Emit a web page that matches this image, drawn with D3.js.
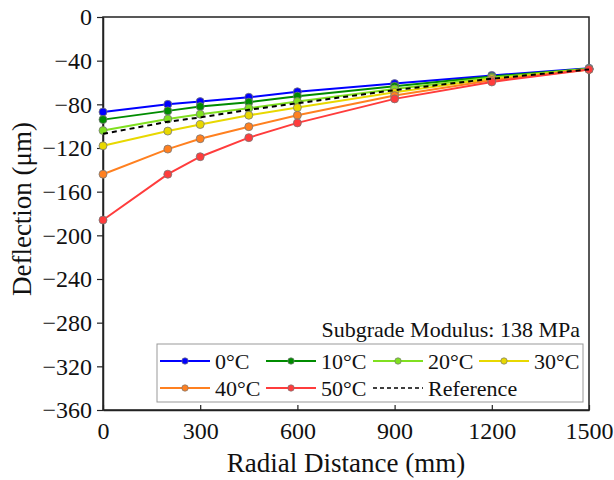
<!DOCTYPE html>
<html>
<head>
<meta charset="utf-8">
<script src="https://cdn.jsdelivr.net/npm/d3@7"></script>
<style>
	body { margin: 0; background: #fff; }
	text { font-family: "Liberation Serif", "Times New Roman", serif; }
</style>
</head>
<body>
<div id="chart"></div>
<script>
// radial distance (mm) and deflection (µm)
var distance = [0, 200, 300, 450, 600, 900, 1200, 1500];
var temp0  = [-87, -80, -77.5, -73.5, -68.5, -61, -53.5, -47];
var temp10 = [-94, -86, -82, -78, -72.5, -63.5, -54.5, -47.5];
var temp20 = [-104, -93.5, -89, -83.5, -77.5, -66, -55.5, -47.5];
var temp30 = [-118, -104.5, -98.5, -90, -83, -69, -56.5, -48];
var temp40 = [-144, -121, -111.5, -100.5, -90, -72, -58, -48];
var temp50 = [-186, -144, -128, -110.5, -97, -75, -59.5, -48];
var reference = [-107, -96, -92, -85, -79, -67, -56.5, -48];

var seriesNames = ["0°C", "10°C", "20°C", "30°C", "40°C", "50°C"];
var seriesColors = ["#0000ff", "#008c00", "#80e020", "#e8d800", "#ff8020", "#ff3c3c"];
var xTicks = [0, 300, 600, 900, 1200, 1500];
var yTicks = [0, -40, -80, -120, -160, -200, -240, -280, -320, -360];

function init() {
	var w = 614;
	var h = 480;
	var left = 103, right = 589, top = 17, bottom = 410;

	var series = [temp0, temp10, temp20, temp30, temp40, temp50];

	var xScale = d3.scaleLinear().domain([0, 1500]).range([left, right]);
	var yScale = d3.scaleLinear().domain([-360, 0]).range([bottom, top]);

	var svg = d3.select("#chart")
		.append("svg")
		.attr("width", w)
		.attr("height", h);

	// frame
	svg.append("rect")
		.attr("x", left)
		.attr("y", top)
		.attr("width", right - left)
		.attr("height", bottom - top)
		.attr("fill", "none")
		.attr("stroke", "#222")
		.attr("stroke-width", 1.5);

	var xAxis = d3.axisBottom(xScale)
		.tickValues(xTicks)
		.tickSizeInner(-5)
		.tickSizeOuter(0)
		.tickPadding(12)
		.tickFormat(function(v) { return String(v); });

	var yAxis = d3.axisLeft(yScale)
		.tickValues(yTicks)
		.tickSizeInner(6)
		.tickSizeOuter(0)
		.tickPadding(5)
		.tickFormat(function(v) { return v < 0 ? "\u2212" + Math.abs(v) : String(v); });

	var gx = svg.append("g")
		.attr("transform", "translate(0," + bottom + ")")
		.call(xAxis);
	var gy = svg.append("g")
		.attr("transform", "translate(" + left + ",0)")
		.call(yAxis);

	[gx, gy].forEach(function(g) {
		g.attr("font-family", "Liberation Serif").attr("font-size", 24);
		g.select(".domain").attr("stroke", "#222").attr("stroke-width", 1.5);
		g.selectAll(".tick line").attr("stroke", "#222").attr("stroke-width", 1.2);
		g.selectAll(".tick text").attr("fill", "#111");
	});

	svg.append("text")
		.attr("x", (left + right) / 2)
		.attr("y", 472)
		.attr("text-anchor", "middle")
		.style("font-size", "27px")
		.attr("fill", "#111")
		.text("Radial Distance (mm)");

	svg.append("text")
		.attr("transform", "translate(31,209) rotate(-90)")
		.attr("text-anchor", "middle")
		.style("font-size", "27px")
		.attr("fill", "#111")
		.text("Deflection (\u03bcm)");

	var line = d3.line()
		.x(function(d, i) { return xScale(distance[i]); })
		.y(function(d) { return yScale(d); });

	series.forEach(function(s, k) {
		svg.append("path")
			.datum(s)
			.attr("d", line)
			.attr("fill", "none")
			.attr("stroke", seriesColors[k])
			.attr("stroke-width", 2);

		svg.selectAll(".pt" + k)
			.data(s)
			.enter()
			.append("circle")
			.attr("cx", function(d, i) { return xScale(distance[i]); })
			.attr("cy", function(d) { return yScale(d); })
			.attr("r", 4)
			.attr("fill", seriesColors[k])
			.attr("stroke", "#777")
			.attr("stroke-width", 0.8);
	});

	svg.append("path")
		.datum(reference)
		.attr("d", line)
		.attr("fill", "none")
		.attr("stroke", "#000")
		.attr("stroke-width", 2)
		.attr("stroke-dasharray", "5,4");

	// annotation + legend
	svg.append("text")
		.attr("x", 580)
		.attr("y", 337)
		.attr("text-anchor", "end")
		.style("font-size", "22px")
		.attr("fill", "#111")
		.text("Subgrade Modulus: 138 MPa");

	svg.append("rect")
		.attr("x", 157)
		.attr("y", 344)
		.attr("width", 426)
		.attr("height", 58)
		.attr("fill", "#fff")
		.attr("stroke", "#999")
		.attr("stroke-width", 1);

	var legendItems = seriesNames.map(function(n, k) {
		return { name: n, color: seriesColors[k], dash: null };
	});
	legendItems.push({ name: "Reference", color: "#000", dash: "4,3" });

	var colX = [160, 266, 373, 479];
	var rowY = [361, 388];

	legendItems.forEach(function(item, k) {
		var lx = colX[k % 4];
		var ly = rowY[Math.floor(k / 4)];
		var g = svg.append("g");
		g.append("line")
			.attr("x1", lx).attr("x2", lx + 50)
			.attr("y1", ly).attr("y2", ly)
			.attr("stroke", item.color)
			.attr("stroke-width", item.dash ? 1.6 : 2)
			.attr("stroke-dasharray", item.dash);
		if (!item.dash) {
			g.append("circle")
				.attr("cx", lx + 25).attr("cy", ly)
				.attr("r", 3.2)
				.attr("fill", item.color)
				.attr("stroke", "#777")
				.attr("stroke-width", 0.7);
		}
		g.append("text")
			.attr("x", lx + 55)
			.attr("y", ly + 7.5)
			.style("font-size", "22px")
			.attr("fill", "#111")
			.text(item.name);
	});
}

window.onload = init;
</script>
</body>
</html>
